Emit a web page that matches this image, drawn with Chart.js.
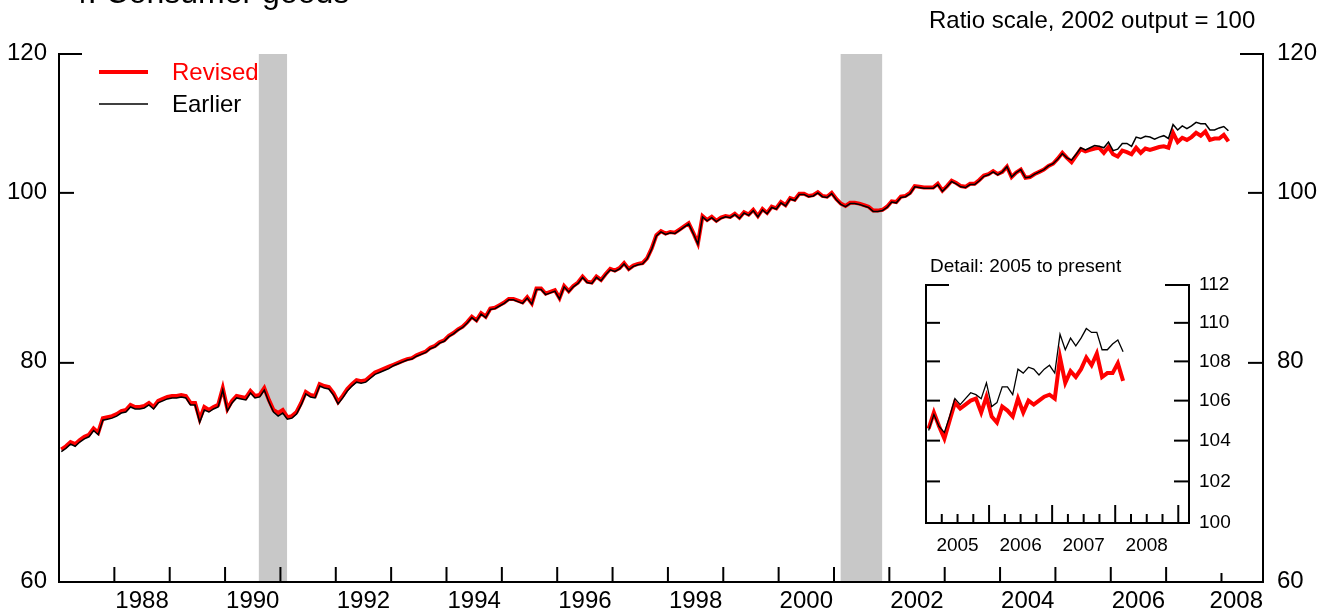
<!DOCTYPE html>
<html><head><meta charset="utf-8">
<script src="https://cdn.jsdelivr.net/npm/chart.js@4.4.0/dist/chart.umd.min.js"></script>
<style>
html,body{margin:0;padding:0;background:#fff;}
#wrap{position:relative;width:1332px;height:616px;overflow:hidden;background:#fff;}
#main{position:absolute;left:0;top:0;}
#inset{position:absolute;left:880px;top:240px;}
</style></head><body>
<div id="wrap"><canvas id="main" width="1332" height="616"></canvas><canvas id="inset" width="380" height="340"></canvas></div>
<script>
// ---- DATA (monthly, index 2002 output = 100), Jan 1987 - Feb 2008 ----
const startYear = 1987;
const revised = [
 71.4, 71.7, 72.1, 71.9, 72.3, 72.6, 72.8, 73.4, 73.0, 74.4, 74.5, 74.6,
 74.8, 75.1, 75.2, 75.7, 75.5, 75.5, 75.6, 75.9, 75.5, 76.1, 76.3, 76.5,
 76.6, 76.6, 76.7, 76.6, 75.9, 75.9, 74.3, 75.5, 75.2, 75.5, 75.7, 77.4,
 75.3, 76.1, 76.6, 76.5, 76.4, 77.1, 76.6, 76.7, 77.4, 76.2, 75.2, 74.9,
 75.2, 74.5, 74.6, 75.0, 75.9, 77.0, 76.7, 76.6, 77.8, 77.6, 77.5, 76.9,
 76.0, 76.6, 77.3, 77.8, 78.2, 78.1, 78.2, 78.6, 79.0, 79.2, 79.4, 79.6,
 79.8, 80.0, 80.2, 80.4, 80.5, 80.8, 81.0, 81.2, 81.6, 81.8, 82.2, 82.4,
 82.9, 83.2, 83.6, 83.9, 84.4, 85.0, 84.6, 85.4, 85.0, 85.9, 86.0, 86.3,
 86.6, 87.0, 87.0, 86.8, 86.6, 87.2, 86.5, 88.2, 88.2, 87.6, 87.8, 88.0,
 87.1, 88.5, 87.9, 88.5, 88.9, 89.6, 89.0, 88.9, 89.6, 89.2, 89.9, 90.5,
 90.3, 90.6, 91.2, 90.5, 90.9, 91.1, 91.2, 91.8, 93.0, 94.6, 95.1, 94.8,
 95.0, 94.9, 95.3, 95.7, 96.1, 94.9, 93.6, 97.0, 96.5, 96.9, 96.4, 96.8,
 97.0, 96.9, 97.3, 96.8, 97.5, 97.2, 97.8, 97.0, 97.9, 97.4, 98.2, 98.0,
 98.8, 98.4, 99.3, 99.1, 99.9, 99.9, 99.6, 99.7, 100.1, 99.6, 99.5, 100.0,
 99.2, 98.6, 98.3, 98.7, 98.7, 98.6, 98.4, 98.2, 97.7, 97.7, 97.8, 98.2,
 98.9, 98.8, 99.5, 99.6, 100.0, 100.9, 100.8, 100.7, 100.7, 100.7, 101.2, 100.3,
 100.9, 101.6, 101.3, 100.9, 100.8, 101.2, 101.2, 101.7, 102.3, 102.5, 102.9, 102.5,
 102.8, 103.5, 102.1, 102.7, 103.1, 102.0, 102.1, 102.5, 102.8, 103.1, 103.6, 103.9,
 104.6, 105.4, 104.7, 104.1, 105.0, 105.9, 105.6, 105.8, 106.0, 106.1, 105.4, 106.2,
 105.2, 104.9, 105.7, 105.5, 105.2, 106.1, 105.4, 106.0, 105.8, 106.0, 106.2, 106.3,
 106.1, 108.2, 106.9, 107.5, 107.2, 107.6, 108.2, 107.8, 108.4, 107.2, 107.4, 107.4,
 107.9, 107.0
];
const earlier = [
 71.2, 71.5, 71.9, 71.7, 72.1, 72.4, 72.6, 73.2, 72.8, 74.2, 74.3, 74.4,
 74.6, 74.9, 75.0, 75.5, 75.3, 75.3, 75.4, 75.7, 75.3, 75.9, 76.1, 76.3,
 76.4, 76.4, 76.5, 76.4, 75.7, 75.7, 74.0, 75.2, 75.0, 75.3, 75.5, 77.2,
 75.1, 75.9, 76.4, 76.3, 76.2, 76.9, 76.4, 76.5, 77.2, 76.0, 75.0, 74.6,
 74.9, 74.3, 74.4, 74.8, 75.7, 76.8, 76.5, 76.4, 77.6, 77.4, 77.3, 76.7,
 75.8, 76.4, 77.1, 77.6, 78.0, 77.9, 78.0, 78.4, 78.8, 79.0, 79.2, 79.4,
 79.7, 79.9, 80.1, 80.3, 80.4, 80.7, 80.9, 81.1, 81.5, 81.7, 82.1, 82.3,
 82.8, 83.1, 83.5, 83.8, 84.3, 84.9, 84.5, 85.3, 84.9, 85.8, 85.9, 86.2,
 86.5, 86.9, 86.9, 86.7, 86.5, 87.1, 86.4, 88.1, 88.1, 87.5, 87.7, 87.9,
 87.0, 88.4, 87.8, 88.4, 88.8, 89.5, 88.9, 88.8, 89.5, 89.1, 89.8, 90.4,
 90.2, 90.5, 91.1, 90.4, 90.8, 91.0, 91.1, 91.7, 92.9, 94.5, 95.0, 94.7,
 94.9, 94.8, 95.2, 95.6, 96.0, 94.8, 93.5, 96.9, 96.4, 96.8, 96.3, 96.7,
 96.9, 96.8, 97.2, 96.7, 97.4, 97.1, 97.7, 96.9, 97.8, 97.3, 98.1, 97.9,
 98.7, 98.3, 99.2, 99.0, 99.8, 99.8, 99.5, 99.6, 100.0, 99.5, 99.4, 99.9,
 99.1, 98.5, 98.2, 98.6, 98.6, 98.5, 98.3, 98.1, 97.6, 97.6, 97.7, 98.1,
 98.8, 98.7, 99.4, 99.5, 99.9, 100.8, 100.7, 100.6, 100.6, 100.6, 101.1, 100.2,
 100.8, 101.5, 101.2, 100.8, 100.7, 101.1, 101.1, 101.6, 102.2, 102.4, 102.8, 102.4,
 102.8, 103.5, 102.1, 102.7, 103.1, 102.0, 102.1, 102.5, 102.8, 103.1, 103.6, 103.9,
 104.5, 105.3, 104.7, 104.4, 105.2, 106.1, 105.8, 106.1, 106.4, 106.3, 106.1, 106.9,
 105.7, 105.9, 106.7, 106.7, 106.3, 107.6, 107.4, 107.7, 107.6, 107.3, 107.6, 107.8,
 107.4, 109.4, 108.6, 109.2, 108.8, 109.2, 109.7, 109.5, 109.5, 108.6, 108.6, 108.9,
 109.1, 108.5
];
const yearTicks = [1988,1989,1990,1991,1992,1993,1994,1995,1996,1997,1998,1999,2000,2001,2002,2003,2004,2005,2006,2007,2008];
const yearLabels = ['1988','1990','1992','1994','1996','1998','2000','2002','2004','2006','2008'];
const yTickValues = [60, 80, 100, 120];
const recessions = [[1990.61, 1991.12], [2001.12, 2001.87]];
const detailStart = 2005;
const detailYearLabels = ['2005','2006','2007','2008'];
const detailYTicks = [100, 102, 104, 106, 108, 110, 112];
const seriesNames = ['Revised', 'Earlier'];
const titleText = '4. Consumer goods';
const unitText = 'Ratio scale, 2002 output = 100';
const detailTitle = 'Detail: 2005 to present';

// ---- helpers ----
const FONT = '"Liberation Sans", Arial, Helvetica, sans-serif';
const RED = '#ff0000';
const toXY = (arr, first) => arr.map((v, i) => ({x: startYear + (first + i + 0.5) / 12, y: v}));
const detailFirst = (detailStart - startYear) * 12;

function seg(ctx, x1, y1, x2, y2) { ctx.beginPath(); ctx.moveTo(x1, y1); ctx.lineTo(x2, y2); ctx.stroke(); }

const mainDeco = {
  id: 'mainDeco',
  beforeDatasetsDraw(chart) {
    const {ctx, chartArea: a, scales: {x}} = chart;
    ctx.save();
    ctx.fillStyle = '#c8c8c8';
    recessions.forEach(([s, e]) => {
      const x1 = x.getPixelForValue(s), x2 = x.getPixelForValue(e);
      ctx.fillRect(x1, a.top, x2 - x1, a.bottom - a.top);
    });
    ctx.restore();
  },
  afterDatasetsDraw(chart) {
    const {ctx, chartArea: a, scales: {x, y}} = chart;
    ctx.save();
    ctx.strokeStyle = '#000'; ctx.lineWidth = 2; ctx.lineCap = 'butt'; ctx.lineJoin = 'miter';
    ctx.beginPath();
    ctx.moveTo(a.left, a.top - 1); ctx.lineTo(a.left, a.bottom); ctx.lineTo(a.right, a.bottom); ctx.lineTo(a.right, a.top - 1);
    ctx.stroke();
    // y ticks (inward) and labels
    ctx.font = '24px ' + FONT; ctx.fillStyle = '#000'; ctx.textBaseline = 'middle';
    yTickValues.forEach((v, k) => {
      const py = y.getPixelForValue(v);
      if (k > 0) {
        const len = (k === yTickValues.length - 1) ? 23 : 15;
        seg(ctx, a.left, py, a.left + len, py);
        seg(ctx, a.right, py, a.right - len, py);
      }
      ctx.textAlign = 'right'; ctx.fillText(String(v), a.left - 12, py - 1);
      ctx.textAlign = 'left'; ctx.fillText(String(v), a.right + 14, py - 1);
    });
    // x ticks (inward); the final one is shorter
    yearTicks.forEach((yr, k) => {
      const px = x.getPixelForValue(yr);
      seg(ctx, px, a.bottom, px, a.bottom - (k === yearTicks.length - 1 ? 9 : 15));
    });
    // x labels at mid-year, clamped to the axis end
    ctx.textAlign = 'center'; ctx.textBaseline = 'alphabetic';
    yearLabels.forEach(l => {
      let px = x.getPixelForValue(+l + 0.5);
      const w = ctx.measureText(l).width;
      if (px + w / 2 > a.right) px = a.right - w / 2;
      ctx.fillText(l, px, a.bottom + 26);
    });
    // unit text
    ctx.textAlign = 'left'; ctx.fillText(unitText, 929, 28);
    // title (mostly cut off at top)
    ctx.font = '32px ' + FONT; ctx.fillText(titleText, 70, 3);
    // legend
    ctx.font = '24px ' + FONT; ctx.textBaseline = 'middle';
    ctx.strokeStyle = RED; ctx.lineWidth = 4; seg(ctx, 99, 72, 148, 72);
    ctx.fillStyle = RED; ctx.fillText(seriesNames[0], 172, 73);
    ctx.strokeStyle = '#000'; ctx.lineWidth = 1.3; seg(ctx, 99, 104, 148, 104);
    ctx.fillStyle = '#000'; ctx.fillText(seriesNames[1], 172, 105);
    ctx.restore();
  }
};

const insetDeco = {
  id: 'insetDeco',
  afterDatasetsDraw(chart) {
    const {ctx, chartArea: a, scales: {x, y}} = chart;
    ctx.save();
    ctx.strokeStyle = '#000'; ctx.lineWidth = 2; ctx.lineCap = 'butt';
    ctx.beginPath();
    ctx.moveTo(a.left, a.top - 1); ctx.lineTo(a.left, a.bottom); ctx.lineTo(a.right, a.bottom); ctx.lineTo(a.right, a.top - 1);
    ctx.stroke();
    ctx.font = '19px ' + FONT; ctx.fillStyle = '#000';
    ctx.textBaseline = 'middle'; ctx.textAlign = 'left';
    detailYTicks.forEach((v, k) => {
      const py = y.getPixelForValue(v);
      if (k > 0) {
        const top = (k === detailYTicks.length - 1);
        seg(ctx, a.left, py, a.left + (top ? 23 : 14), py);
        seg(ctx, a.right, py, a.right - (top ? 24 : 15), py);
      }
      ctx.fillText(String(v), a.right + 10, py);
    });
    // quarterly minor and yearly major ticks
    for (let q = detailStart * 4 + 1; q / 4 < x.max; q++) {
      const t = q / 4, px = x.getPixelForValue(t);
      const major = (q % 4 === 0);
      seg(ctx, px, a.bottom, px, a.bottom - (major ? 18 : 9));
    }
    ctx.textAlign = 'center'; ctx.textBaseline = 'alphabetic';
    detailYearLabels.forEach(l => ctx.fillText(l, x.getPixelForValue(+l + 0.5), a.bottom + 28));
    ctx.textAlign = 'left';
    ctx.fillText(detailTitle, 50, 32);
    ctx.restore();
  }
};

const common = {
  responsive: false, animation: false, devicePixelRatio: 1, events: [],
  plugins: {legend: {display: false}, tooltip: {enabled: false}},
  elements: {point: {radius: 0}, line: {tension: 0, borderJoinStyle: 'miter'}}
};

new Chart(document.getElementById('main'), {
  type: 'line',
  data: {datasets: [
    {label: seriesNames[0], data: toXY(revised, 0), borderColor: RED, borderWidth: 4, order: 1},
    {label: seriesNames[1], data: toXY(earlier, 0), borderColor: '#000', borderWidth: 1.5, order: 0}
  ]},
  options: Object.assign({}, common, {
    layout: {padding: {left: 59, right: 69, top: 54, bottom: 34}},
    scales: {
      x: {type: 'linear', min: 1987, max: 2008.75, display: false},
      y: {type: 'logarithmic', min: 60, max: 120, display: false}
    }
  }),
  plugins: [mainDeco]
});

new Chart(document.getElementById('inset'), {
  type: 'line',
  data: {datasets: [
    {label: seriesNames[0], data: toXY(revised.slice(detailFirst), detailFirst), borderColor: RED, borderWidth: 4, order: 1},
    {label: seriesNames[1], data: toXY(earlier.slice(detailFirst), detailFirst), borderColor: '#000', borderWidth: 1.3, order: 0}
  ]},
  options: Object.assign({}, common, {
    layout: {padding: {left: 46, right: 71, top: 45, bottom: 57}},
    scales: {
      x: {type: 'linear', min: 2005, max: 2009.17, display: false},
      y: {type: 'logarithmic', min: 100, max: 112, display: false}
    }
  }),
  plugins: [insetDeco]
});
</script>
</body></html>
